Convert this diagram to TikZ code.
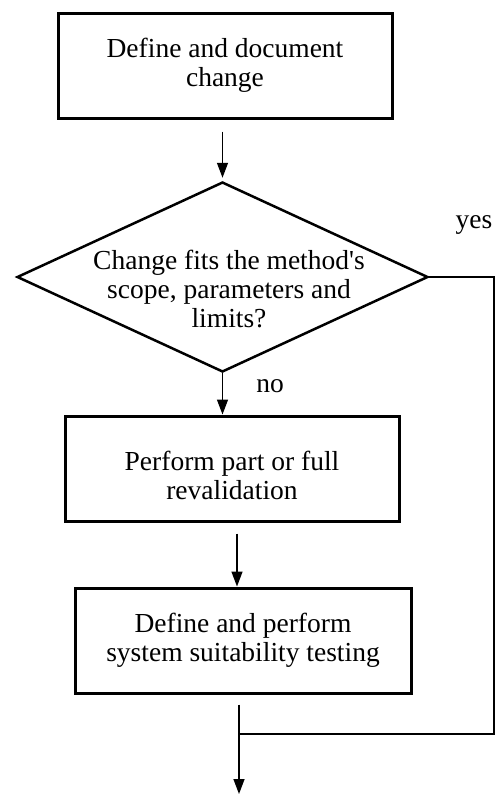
\documentclass[tikz,border=0pt]{standalone}
\usepackage{fontspec}
\setmainfont{Liberation Serif}
\usetikzlibrary{shapes.geometric,arrows.meta}
\begin{document}
\begin{tikzpicture}[x=1pt,y=-1pt,
  every node/.style={font=\fontsize{27.5}{29}\selectfont},
  box/.style={draw,line width=3pt,rectangle,minimum width=334pt,minimum height=105pt,align=center,inner sep=0pt},
  decision/.style={draw,line width=2.5pt,diamond,minimum width=411pt,minimum height=190pt,inner sep=0pt},
  arr/.style={line width=1.4pt,-{Triangle[length=15pt,width=11pt]}},
  yesline/.style={line width=2pt}]
\useasboundingbox (0,0) rectangle (498,796);
\node[box] (box1) at (225,65.5) {Define and document\\change};
\node[decision] (dec) at (222.5,277) {};
\node[align=center,inner sep=0pt] (dectext) at (229,289) {Change fits the method\textquotesingle s\\scope, parameters and\\limits?};
\node[box] (box2) at (232,468.5) {\raisebox{-17pt}[0pt][0pt]{\begin{tabular}{@{}c@{}}Perform part or full\\revalidation\end{tabular}}};
\node[box,minimum width=336pt] (box3) at (243,640.5) {Define and perform\\system suitability testing};
\node (yes) at (474,225) {yes};
\node (no) at (270,386) {no};
\coordinate (join) at (239,734);
\coordinate (out) at (239,794);
\draw[arr,shorten <=12pt,shorten >=3pt] (box1.south -| dec.north) -- (dec.north);
\draw[arr] (dec.south) -- (dec.south |- box2.north);
\draw[arr,shorten <=11pt] ([xshift=5pt]box2.south) -- ([xshift=5pt]box2.south |- box3.north);
\draw[yesline] (dec.east) -- ++(65,0) |- (join);
\draw[arr,shorten <=10pt] (box3.south -| out) -- (out);
\end{tikzpicture}
\end{document}
